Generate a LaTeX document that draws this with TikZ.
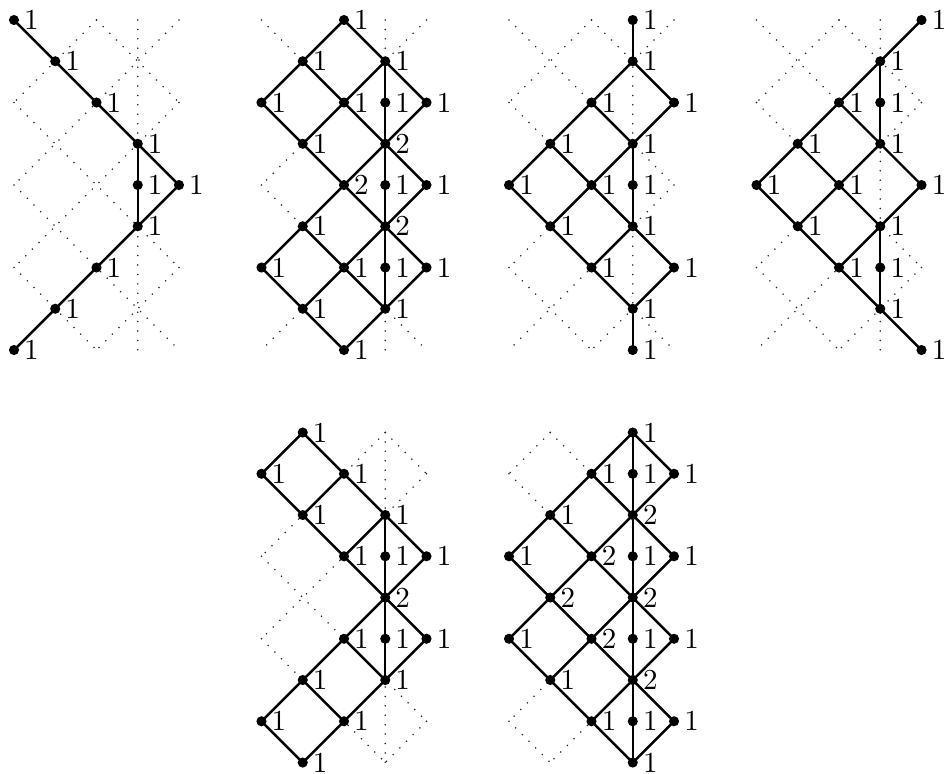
\documentclass[tikz,border=0pt]{standalone}
\tikzset{
  bgline/.style={line width=0.6pt, line cap=round, dash pattern=on 0pt off 3.25pt, black!85},
  solidline/.style={line width=0.85pt},
  dotnode/.style={circle, fill=black, inner sep=0pt, minimum size=3.5pt},
  labnode/.style={anchor=west, inner xsep=0.3333em, inner ysep=0pt},
}
\newcommand\gridpoints{%
  \foreach \ca in {0,...,4}{\foreach \ra in {0,...,8}{\coordinate (p\ca\ra) at (\ca,\ra);}}}
\newcommand\latticeeven{%
  \foreach \pa/\pb in {06/28,04/48,02/46,00/44,20/42,20/02,40/04,42/06,44/08,46/28,30/38}
    {\draw[bgline] (p\pa) -- (p\pb);}}
\newcommand\latticeodd{%
  \foreach \pa/\pb in {07/18,05/38,03/47,01/45,10/43,30/41,10/01,30/03,41/05,43/07,45/18,47/38,30/38}
    {\draw[bgline] (p\pa) -- (p\pb);}}
\newcommand\solidedges[1]{%
  \foreach \pa/\pb in {#1}{\draw[solidline] (p\pa) -- (p\pb);}}
\newcommand\dotslabels[1]{%
  \foreach \pa/\la in {#1}{\node[dotnode] (d\pa) at (p\pa) {}; \node[labnode] (l\pa) at (p\pa) {\la};}}
\begin{document}
\begin{tikzpicture}[x=0.5cm,y=-0.5cm]
\useasboundingbox (-0.3394,-0.485) rectangle (22.545,18.255);
% diagram 1
\begin{scope}[name prefix=a-, shift={(0,0)}]
  \gridpoints
  \latticeeven
  \solidedges{00/11,11/22,22/33,33/44,44/35,35/26,26/17,17/08,33/35}
  \dotslabels{00/1,11/1,22/1,33/1,34/1,44/1,35/1,26/1,17/1,08/1}
\end{scope}
% diagram 2
\begin{scope}[name prefix=b-, shift={(6,0)}]
  \gridpoints
  \latticeeven
  \solidedges{20/11,20/31,11/02,11/22,31/22,31/42,02/13,22/13,22/33,42/33,13/24,33/24,33/44,24/35,44/35,24/15,15/06,15/26,35/26,35/46,06/17,26/17,26/37,46/37,17/28,37/28,31/37}
  \dotslabels{20/1,11/1,31/1,02/1,22/1,32/1,42/1,13/1,33/2,24/2,34/1,44/1,15/1,35/2,06/1,26/1,36/1,46/1,17/1,37/1,28/1}
\end{scope}
% diagram 3
\begin{scope}[name prefix=c-, shift={(12,0)}]
  \gridpoints
  \latticeeven
  \solidedges{30/31,31/22,31/42,22/13,22/33,42/33,13/04,13/24,33/24,04/15,24/15,24/35,15/26,35/26,35/46,26/37,46/37,37/38,33/35}
  \dotslabels{30/1,31/1,22/1,42/1,13/1,33/1,04/1,24/1,34/1,15/1,35/1,26/1,46/1,37/1,38/1}
\end{scope}
% diagram 4
\begin{scope}[name prefix=d-, shift={(18,0)}]
  \gridpoints
  \latticeeven
  \solidedges{40/31,31/22,31/33,22/13,22/33,13/04,13/24,33/24,33/44,04/15,24/15,24/35,44/35,15/26,35/26,26/37,35/37,37/48}
  \dotslabels{40/1,31/1,22/1,32/1,13/1,33/1,04/1,24/1,44/1,15/1,35/1,26/1,36/1,37/1,48/1}
\end{scope}
% diagram 5
\begin{scope}[name prefix=e-, shift={(6,10)}]
  \gridpoints
  \latticeodd
  \solidedges{10/01,10/21,01/12,21/12,21/32,12/23,32/23,32/43,23/34,43/34,32/36,34/25,34/45,25/36,45/36,25/16,36/27,16/07,16/27,07/18,27/18}
  \dotslabels{10/1,01/1,21/1,12/1,32/1,23/1,33/1,43/1,34/2,25/1,35/1,45/1,16/1,36/1,07/1,27/1,18/1}
\end{scope}
% diagram 6
\begin{scope}[name prefix=f-, shift={(12,10)}]
  \gridpoints
  \latticeodd
  \solidedges{30/21,30/41,30/38,21/12,21/32,41/32,12/03,12/23,32/23,32/43,03/14,23/14,23/34,43/34,14/05,14/25,34/25,34/45,05/16,25/16,25/36,45/36,16/27,36/27,36/47,27/38,47/38}
  \dotslabels{30/1,21/1,31/1,41/1,12/1,32/2,03/1,23/2,33/1,43/1,14/2,34/2,05/1,25/2,35/1,45/1,16/1,36/2,27/1,37/1,47/1,38/1}
\end{scope}
\end{tikzpicture}
\end{document}
